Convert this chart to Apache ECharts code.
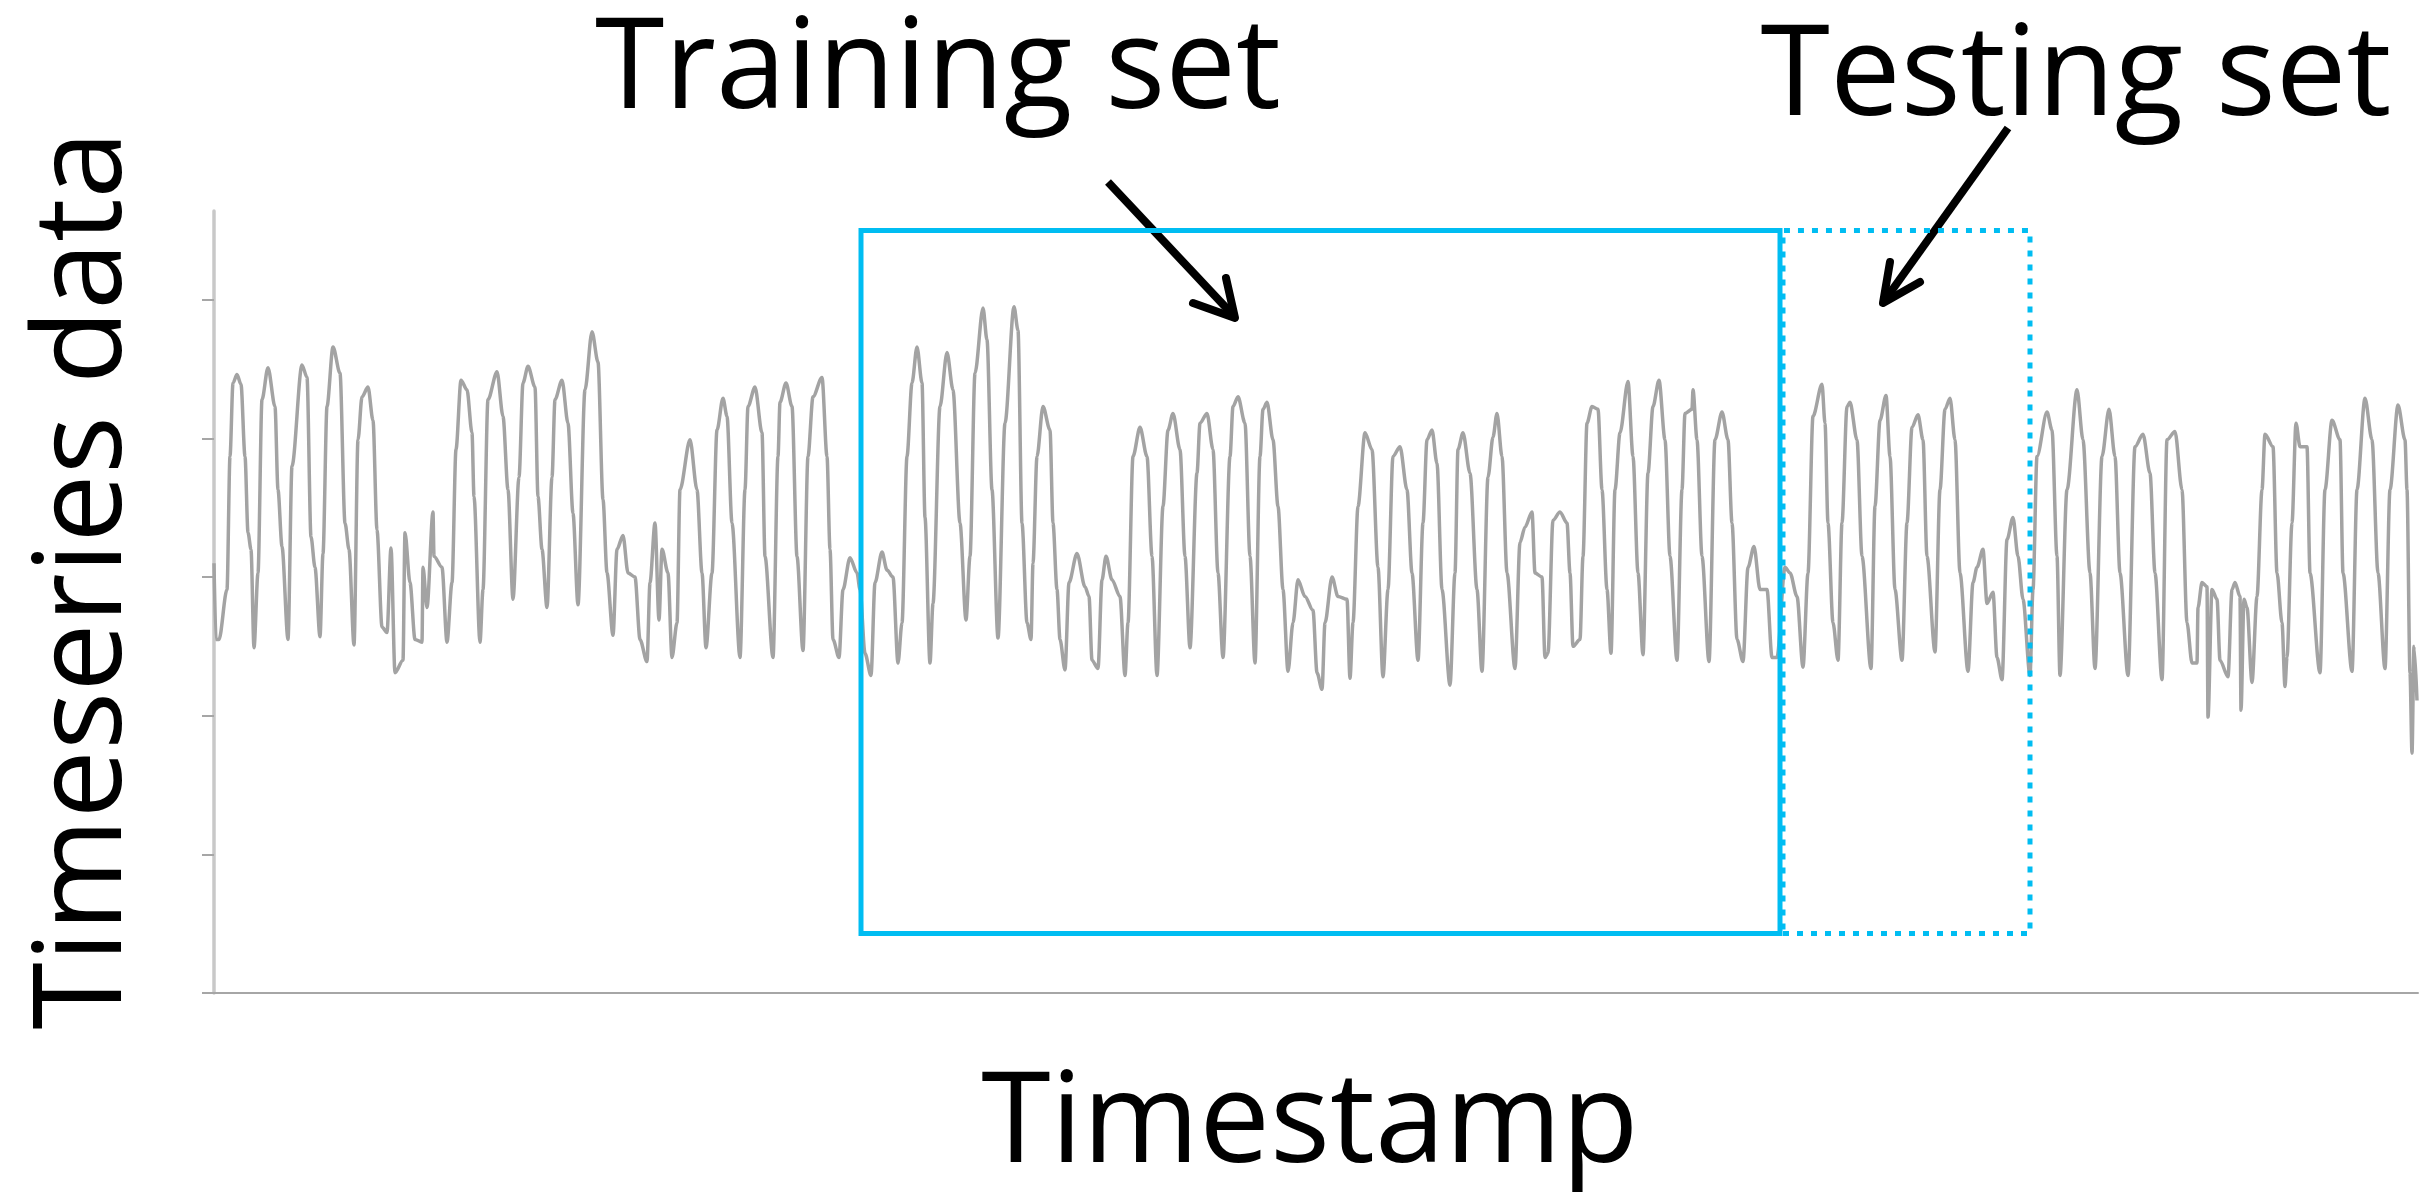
<!DOCTYPE html>
<html lang="en">
<head>
<meta charset="UTF-8">
<title>Training / testing split</title>
<script src="https://cdn.jsdelivr.net/npm/echarts@6/dist/echarts.min.js"></script>
<style>
  html, body { margin: 0; padding: 0; background: #fff; }
  #chart { width: 2433px; height: 1200px; }
</style>
</head>
<body>
<div id="chart"></div>
<script>
// readings as [hour, value] (roughly one line per day)
var points = [
  [0, 3.10], [1.5, 2.55], [3.75, 2.55], [9.75, 2.91], [12, 3.87], [14.25, 4.40], [17.25, 4.46], [20.25, 4.39], [23.25, 3.87], [25.5, 3.32], [27.75, 3.20],
  [30, 2.49], [33, 3.03], [36, 4.28], [40.5, 4.51], [45.75, 4.23], [48, 3.63], [51, 3.22],
  [55.5, 2.55], [58.5, 3.80], [66, 4.53], [69.75, 4.44], [72.75, 3.29], [75.75, 3.07],
  [79.5, 2.57], [81.75, 3.17], [84.75, 4.23], [89.25, 4.66], [94.5, 4.47], [98.25, 3.39], [101.25, 3.20],
  [105, 2.51], [108, 3.99], [111, 4.30], [115.5, 4.37], [119.25, 4.13], [122.25, 3.34], [126, 2.64],
  [129.75, 2.60], [132.75, 3.21], [135.75, 2.31], [141.75, 2.40], [143.25, 3.32], [147, 2.96], [150.75, 2.55],
  [156, 2.53], [156.75, 3.07], [159.75, 2.78], [164.25, 3.47], [165, 3.15], [171, 3.07], [174.75, 2.53], [178.5, 2.96],
  [181.5, 3.92], [185.25, 4.42], [189.75, 4.35], [193.5, 4.04], [195, 3.58],
  [199.5, 2.53], [201.75, 2.91], [205.5, 4.28], [212.25, 4.48], [216.75, 4.16], [220.5, 3.63],
  [224.25, 2.84], [228.75, 3.72], [231.75, 4.40], [235.5, 4.52], [240.75, 4.37], [243, 3.58], [246, 3.20],
  [249.75, 2.78], [253.5, 3.72], [255.75, 4.28], [261, 4.42], [265.5, 4.11], [269.25, 3.46],
  [273, 2.80], [278.25, 4.35], [283.5, 4.77], [288, 4.55], [291.75, 3.56], [294.75, 3.03],
  [299.25, 2.58], [302.25, 3.20], [306.75, 3.30], [310.5, 3.03], [315.75, 3.00], [319.5, 2.55],
  [324.75, 2.39], [327, 2.96], [330.75, 3.39], [333.75, 2.69], [336, 3.20], [340.5, 3.03], [343.5, 2.42], [347.25, 2.67],
  [349.5, 3.63], [357, 3.99], [362.25, 3.63], [366, 3.03],
  [369, 2.49], [373.5, 3.03], [377.25, 4.06], [381.75, 4.29], [384.75, 4.16], [388.5, 3.39],
  [394.5, 2.42], [398.25, 3.63], [400.5, 4.23], [405.75, 4.37], [411, 4.04], [413.25, 3.15],
  [419.25, 2.42], [423, 3.87], [424.5, 4.26], [429, 4.40], [433.5, 4.23], [437.25, 3.15],
  [441.75, 2.47], [445.5, 3.87], [449.25, 4.30], [456, 4.44], [459.75, 3.87], [462, 3.20], [464.25, 2.55],
  [468.75, 2.42], [471.75, 2.91], [477, 3.14], [482.25, 3.03], [484.5, 2.91], [488.25, 2.45],
  [492.75, 2.29], [495.75, 2.96], [501, 3.18], [504.75, 3.05], [509.25, 3.00], [513, 2.38], [516, 2.67],
  [519.75, 3.87], [523.5, 4.40], [527.25, 4.66], [531, 4.40], [533.25, 3.43],
  [537, 2.38], [539.25, 2.81], [544.5, 4.23], [549.75, 4.62], [554.25, 4.35], [559.5, 3.39],
  [564, 2.69], [567, 3.15], [570.75, 4.47], [576.75, 4.94], [579.75, 4.71], [583.5, 3.63],
  [588, 2.56], [593.25, 4.11], [600, 4.95], [603, 4.78], [606, 3.39], [609.75, 2.67],
  [612.75, 2.55], [614.25, 3.10], [617.25, 3.87], [621.75, 4.23], [627, 4.06], [629.25, 3.39], [632.25, 2.91], [634.5, 2.55],
  [638.25, 2.33], [641.25, 2.96], [647.25, 3.17], [653.25, 2.93], [656.25, 2.86], [658.5, 2.40],
  [663, 2.34], [666, 2.98], [669, 3.15], [673.5, 2.98], [679.5, 2.86], [683.25, 2.29], [685.5, 2.67],
  [689.25, 3.87], [694.5, 4.08], [699.75, 3.87], [703.5, 3.15],
  [707.25, 2.29], [711.75, 3.51], [715.5, 4.06], [719.25, 4.18], [724.5, 3.92], [728.25, 3.15],
  [732, 2.49], [737.25, 3.75], [739.5, 4.11], [744.75, 4.18], [749.25, 3.92], [753, 3.03],
  [756.75, 2.42], [762, 3.87], [764.25, 4.23], [768, 4.30], [773.25, 4.11], [777, 3.15],
  [780.75, 2.38], [784.5, 3.87], [786.75, 4.21], [789.75, 4.26], [794.25, 3.99], [798, 3.51], [801.75, 2.91],
  [805.5, 2.32], [809.25, 2.67], [813, 2.98], [818.25, 2.86], [824.25, 2.76], [827.25, 2.31],
  [831, 2.19], [833.25, 2.67], [838.5, 3.00], [843, 2.86], [849.75, 2.84], [852, 2.27], [854.25, 2.67],
  [858, 3.51], [863.25, 4.04], [868.5, 3.92], [873, 3.07],
  [876.75, 2.28], [880.5, 2.91], [884.25, 3.87], [889.5, 3.94], [894.75, 3.63], [898.5, 3.03],
  [903, 2.40], [906.75, 3.39], [909.75, 3.99], [913.5, 4.06], [917.25, 3.82], [921, 2.91],
  [927, 2.22], [930.75, 3.03], [933, 3.92], [936.75, 4.04], [942, 3.75], [947.25, 2.91],
  [951, 2.32], [955.5, 3.72], [959.25, 4.01], [962.25, 4.18], [966, 3.87], [969.75, 3.03],
  [975.75, 2.34], [979.5, 3.25], [983.25, 3.36], [988.5, 3.47], [990.75, 3.03], [996, 3.00], [998.25, 2.42],
  [1000.5, 2.45], [1004.25, 3.41], [1009.5, 3.47], [1014.75, 3.39], [1017, 3.03], [1019.25, 2.50], [1024.5, 2.55],
  [1026.75, 3.15], [1029.75, 4.11], [1033.5, 4.23], [1038, 4.21], [1041, 3.63], [1044.75, 2.91],
  [1047.75, 2.45], [1050.75, 3.63], [1054.5, 4.04], [1060.5, 4.41], [1064.25, 3.87], [1068, 3.03],
  [1071.75, 2.44], [1075.5, 3.75], [1079.25, 4.23], [1083.75, 4.42], [1088.25, 3.99], [1092, 3.15],
  [1097.25, 2.40], [1101, 3.63], [1103.25, 4.18], [1108.5, 4.21], [1109.25, 4.35], [1112.25, 3.99], [1116, 3.15],
  [1121.25, 2.39], [1125.75, 3.99], [1131, 4.19], [1135.5, 3.99], [1138.5, 3.39], [1142.25, 2.55],
  [1146.75, 2.39], [1150.5, 3.07], [1155, 3.22], [1159.5, 2.91], [1164.75, 2.91], [1168.5, 2.42],
  [1172.25, 2.42], [1178.25, 3.07], [1182, 3.03], [1187.25, 2.86], [1191.75, 2.35],
  [1195.5, 3.03], [1199.25, 4.16], [1206, 4.39], [1208.25, 4.11], [1210.5, 3.39], [1214.25, 2.67],
  [1218, 2.40], [1221, 3.39], [1224.75, 4.23], [1227, 4.26], [1232.25, 3.99], [1236, 3.15],
  [1242.75, 2.34], [1245.75, 3.51], [1249.5, 4.13], [1254, 4.31], [1257, 3.87], [1260.75, 2.91],
  [1266, 2.40], [1269.75, 3.39], [1273.5, 4.08], [1278, 4.17], [1281.75, 3.99], [1284.75, 3.15],
  [1290.75, 2.46], [1294.5, 3.63], [1298.25, 4.21], [1302, 4.29], [1305.75, 3.99], [1309.5, 3.03],
  [1315.5, 2.32], [1319.25, 2.96], [1322.25, 3.07], [1326.75, 3.20], [1329.75, 2.81], [1334.25, 2.89], [1337.25, 2.42],
  [1341, 2.26], [1344.75, 3.27], [1349.25, 3.43], [1353, 3.15], [1356.75, 2.84], [1362, 2.29],
  [1364.25, 2.91], [1367.25, 3.87], [1374.75, 4.19], [1378.5, 4.06], [1382.25, 3.15],
  [1384.5, 2.29], [1389.75, 3.63], [1397.25, 4.35], [1401.75, 3.99], [1407, 3.03],
  [1410.75, 2.34], [1416, 3.87], [1421.25, 4.21], [1425.75, 3.87], [1429.5, 3.03],
  [1435.5, 2.29], [1440.75, 3.94], [1446.75, 4.03], [1452, 3.75], [1455.75, 3.03],
  [1461, 2.26], [1464.75, 3.99], [1470.75, 4.05], [1476, 3.63], [1479.75, 2.67],
  [1483.5, 2.38], [1487.25, 2.38], [1488, 2.78], [1491, 2.96], [1494.75, 2.93], [1495.5, 1.99], [1498.5, 2.91], [1502.25, 2.84], [1504.5, 2.40],
  [1510.5, 2.28], [1513.5, 2.91], [1515.75, 2.96], [1519.5, 2.86], [1520.25, 2.04], [1522.5, 2.84], [1524.75, 2.78], [1528.5, 2.24],
  [1532.25, 2.86], [1536, 3.63], [1538.25, 4.03], [1544.25, 3.94], [1547.25, 3.03], [1551, 2.67],
  [1553.25, 2.21], [1554.75, 2.42], [1558.5, 3.39], [1561.5, 4.11], [1564.5, 3.94], [1569.75, 3.94], [1572, 3.03],
  [1579.5, 2.31], [1583.25, 3.63], [1588.5, 4.13], [1594.5, 3.99], [1596.75, 3.03],
  [1603.5, 2.32], [1607.25, 3.63], [1613.25, 4.29], [1618.5, 3.99], [1623, 3.03],
  [1628.25, 2.34], [1632, 3.63], [1638, 4.24], [1643.25, 3.99], [1644.75, 3.63], [1647, 2.31],
  [1648.5, 1.73], [1650, 2.50], [1652.25, 2.11]
];

// window bounds in data units
var trainSpan = [485.25, 1174.5];
var testSpan = [1176.75, 1362];
var boxRange = [0.43, 5.5];
var yTicks = [0, 1, 2, 3, 4, 5];
var xMax = 1653;
var yMax = 5.64;

var boxColor = '#00bdf2';
var font = 'Open Sans';

function boxPath(span) {
    return [
        [span[0], boxRange[0]], [span[1], boxRange[0]],
        [span[1], boxRange[1]], [span[0], boxRange[1]],
        [span[0], boxRange[0]]
    ];
}

var chart = echarts.init(document.getElementById('chart'), null, { renderer: 'canvas' });

var option = {
    backgroundColor: '#ffffff',
    animation: false,
    grid: { left: 214, right: 15, top: 211, bottom: 207 },
    xAxis: {
        type: 'value',
        min: 0,
        max: xMax,
        axisLine: { show: true, lineStyle: { color: '#a6a6a6', width: 2 } },
        axisTick: { show: false },
        axisLabel: { show: false },
        splitLine: { show: false }
    },
    yAxis: {
        type: 'value',
        min: 0,
        max: yMax,
        axisLine: { show: true, lineStyle: { color: '#c8c8c8', width: 3.5 } },
        axisTick: { show: true, length: 12, customValues: yTicks, lineStyle: { color: '#a6a6a6', width: 2 } },
        axisLabel: { show: false },
        splitLine: { show: false }
    },
    series: [
        {
            type: 'line',
            data: points,
            symbol: 'none',
            smooth: 0.3,
            smoothMonotone: 'x',
            lineStyle: { color: '#a3a3a3', width: 3.5 },
            z: 2
        },
        {
            type: 'line',
            data: boxPath(trainSpan),
            symbol: 'none',
            lineStyle: { color: boxColor, width: 5, cap: 'square', join: 'miter' },
            z: 3
        },
        {
            type: 'line',
            data: boxPath(testSpan),
            symbol: 'none',
            lineStyle: { color: boxColor, width: 5, type: [6, 8] },
            z: 3
        }
    ],
    graphic: [
        { type: 'text', x: 938, y: 72, style: { text: 'Training set', fontFamily: font, fontSize: 126, fill: '#000', align: 'center', verticalAlign: 'middle' } },
        { type: 'text', x: 2076, y: 79, style: { text: 'Testing set', fontFamily: font, fontSize: 126, fill: '#000', align: 'center', verticalAlign: 'middle' } },
        { type: 'text', x: 1310, y: 1126, style: { text: 'Timestamp', fontFamily: font, fontSize: 126, fill: '#000', align: 'center', verticalAlign: 'middle' } },
        { type: 'text', x: 86, y: 580, rotation: Math.PI / 2, style: { text: 'Timeseries data', fontFamily: font, fontSize: 122, fill: '#000', align: 'center', verticalAlign: 'middle' } },
        // arrows
        { type: 'polyline', shape: { points: [[1108, 182], [1232, 314]] }, style: { stroke: '#000', lineWidth: 8, fill: null } },
        { type: 'polyline', shape: { points: [[1193, 303], [1235, 318], [1226, 278]] }, style: { stroke: '#000', lineWidth: 8, fill: null, lineJoin: 'round', lineCap: 'round' } },
        { type: 'polyline', shape: { points: [[2008, 128], [1885, 300]] }, style: { stroke: '#000', lineWidth: 8, fill: null } },
        { type: 'polyline', shape: { points: [[1890, 262], [1883, 303], [1920, 282]] }, style: { stroke: '#000', lineWidth: 8, fill: null, lineJoin: 'round', lineCap: 'round' } }
    ]
};

chart.setOption(option);
</script>
</body>
</html>
